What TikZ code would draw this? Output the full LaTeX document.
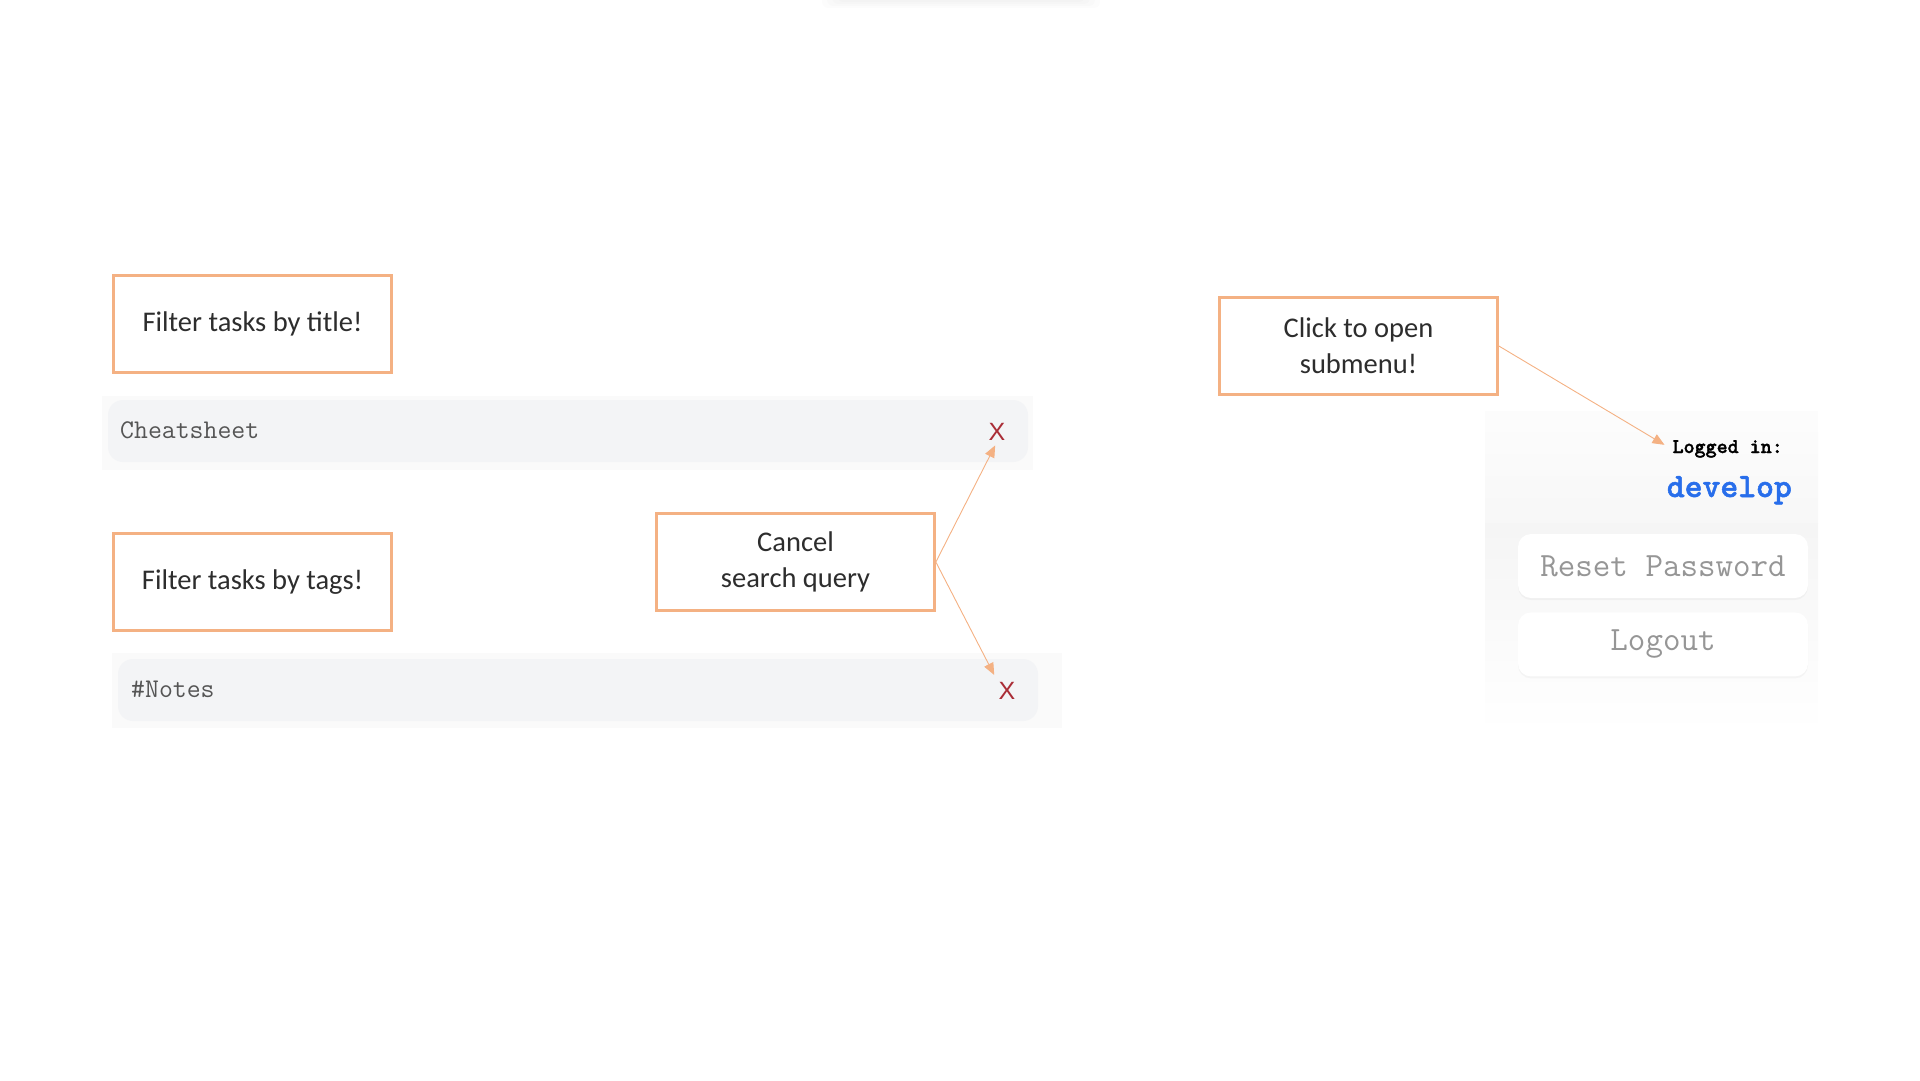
\documentclass[tikz,border=0pt]{standalone}
\usepackage{fontspec}
\setmainfont{Carlito}
\newfontfamily\xfont{Liberation Sans}
\newfontfamily\monobold{lmmonolt10-bold.otf}[FakeBold=1.5]
\usetikzlibrary{positioning, arrows.meta, shadows}
\definecolor{notecolor}{RGB}{244, 177, 131}
\definecolor{inkcolor}{RGB}{45, 45, 45}
\definecolor{barcolor}{RGB}{243, 244, 246}
\definecolor{shadecolor}{RGB}{250, 250, 250}
\definecolor{querycolor}{RGB}{85, 85, 85}
\definecolor{clearcolor}{RGB}{170, 45, 55}
\definecolor{usercolor}{RGB}{40, 110, 235}
\definecolor{btncolor}{RGB}{150, 150, 150}

\begin{document}
\begin{tikzpicture}[
    x=1pt, y=-1pt,
    notebox/.style={rectangle, draw=notecolor, line width=2.7pt, fill=white, minimum width=278pt, minimum height=97pt, align=center, text=inkcolor, font=\fontsize{28.5}{36}\selectfont},
    searchbar/.style={rectangle, rounded corners=15pt, fill=barcolor, minimum width=920pt, minimum height=62pt, inner sep=0pt},
    querytext/.style={anchor=base west, inner sep=1pt, text=querycolor, font=\ttfamily\fontsize{27}{30}\selectfont},
    clearmark/.style={inner sep=1pt, text=clearcolor, font=\xfont\fontsize{25}{25}\selectfont},
    menubtn/.style={rectangle, rounded corners=13pt, fill=white, minimum width=290pt, minimum height=64pt, inner sep=0pt, text=btncolor, font=\ttfamily\fontsize{34}{34}\selectfont, drop shadow={opacity=0.06, shadow xshift=0pt, shadow yshift=-2pt}},
    arrow/.style={-{Triangle[length=12pt, width=10pt]}, draw=notecolor, line width=0.9pt},
]
\useasboundingbox (0,0) rectangle (1920,1080);

% ============ top shadow ============
\foreach \k in {0,...,3}
    \fill[black, opacity=0.012, rounded corners=6pt] ({822+5*\k}, -20) rectangle ({1100-5*\k}, {8-2*\k});

% ============ search by title ============
\fill[shadecolor] (102,396) rectangle (1033,470);
\node[searchbar] (title_bar) at (568,431) {};
\node[querytext] (title_query) at (119,438) {Cheatsheet};
\node[clearmark] (title_clear) at (997,432) {X};
\node[notebox] (title_note) at (252.5,324) {Filter tasks by title!};

% ============ search by tags ============
\fill[shadecolor] (112,653) rectangle (1062,728);
\node[searchbar] (tags_bar) at (578,690) {};
\node[querytext] (tags_query) at (130,697) {\#Notes};
\node[clearmark] (tags_clear) at (1007,691) {X};
\node[notebox] (tags_note) at (252.5,582) {Filter tasks by tags!};

\node[notebox] (cancel_note) at (795.5,562) {Cancel\\search query};

% ============ user menu ============
\shade[top color=gray!2, bottom color=gray!6] (1485,411) rectangle (1818,523);
\shade[top color=gray!8, bottom color=white] (1485,523) rectangle (1818,733);
\node[anchor=base east, inner sep=1pt, font=\monobold\fontsize{21}{22}\selectfont] (login_label) at (1784,453) {Logged in:};
\node[anchor=base east, inner sep=1pt, text=usercolor, font=\monobold\fontsize{34}{34}\selectfont] (user_name) at (1793,497) {develop};
\node[menubtn] (reset_btn) at (1663,566) {Reset Password};
\node[menubtn, below=14pt of reset_btn] (logout_btn) {Logout};

\node[notebox] (click_note) at (1358.5,346) {Click to open\\submenu!};

% ============ arrows ============
\draw[arrow, shorten >=4pt] (cancel_note.east) -- (title_clear.south);
\draw[arrow, shorten >=7pt] (cancel_note.east) -- (tags_clear.north west);
\draw[arrow, shorten >=8pt] (click_note.east) -- (login_label.west);

\end{tikzpicture}
\end{document}
